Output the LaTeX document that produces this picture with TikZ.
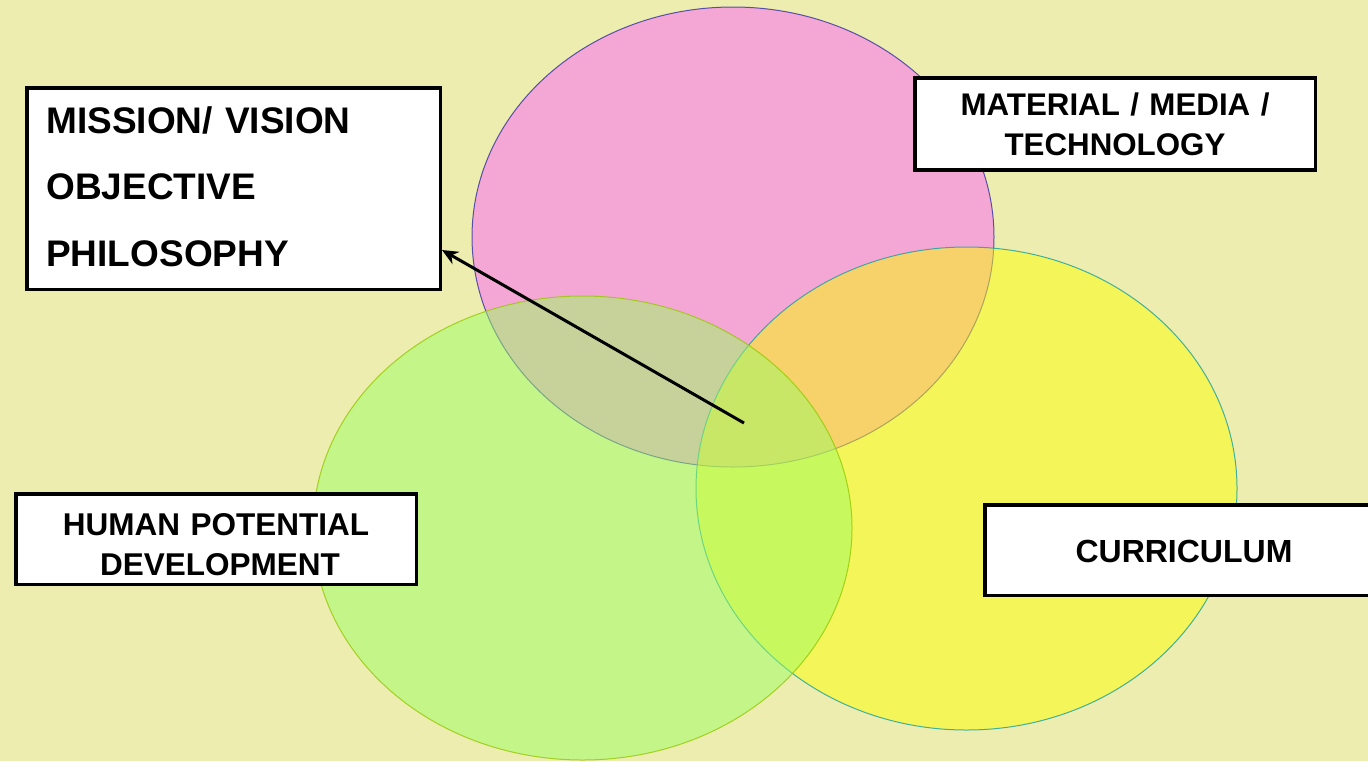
\documentclass[tikz,border=0pt]{standalone}
\usepackage{fontspec}
\setmainfont{Liberation Sans}
\usetikzlibrary{arrows.meta}
\definecolor{bgcol}{RGB}{237,237,176}
\definecolor{pinkfill}{RGB}{251,99,248}
\definecolor{pinkline}{RGB}{50,50,160}
\definecolor{yellowfill}{RGB}{251,253,4}
\definecolor{yellowline}{RGB}{20,160,160}
\definecolor{greenfill}{RGB}{155,253,100}
\definecolor{greenline}{RGB}{150,200,0}
\tikzset{
  blob/.style={fill opacity=0.5, draw opacity=0.8, line width=1pt},
  labelbox/.style={draw=black, fill=white, line width=3.5pt, rectangle, inner ysep=0pt, font=\bfseries},
  pointer/.style={draw=black, line width=3pt, -{Stealth[length=16pt,width=14pt]}}
}
\begin{document}
\begin{tikzpicture}[x=1pt,y=-1pt]
\useasboundingbox (0,0) rectangle (1368,761);
\fill[bgcol] (0,0) rectangle (1368,761);
% circles
\draw[blob, fill=pinkfill, draw=pinkline] (733,237) ellipse [x radius=261, y radius=230];
\draw[blob, fill=yellowfill, draw=yellowline] (966.5,488.5) ellipse [x radius=270.5, y radius=241.5];
\draw[blob, fill=greenfill, draw=greenline] (582.5,528) ellipse [x radius=269.5, y radius=232];
% boxes
\node[labelbox, minimum width=413.5pt, minimum height=201.5pt, inner xsep=19.5pt,
      text width=374.5pt, align=left, text height=45.25pt, text depth=156.25pt,
      font=\bfseries\fontsize{37}{66.8}\selectfont]
  (mission) at (233.5,188.5) {MISSION/ VISION\\OBJECTIVE\\PHILOSOPHY};
\node[labelbox, minimum width=400.5pt, minimum height=92.25pt, inner xsep=5pt,
      text width=390.5pt, align=center, text height=37.25pt, text depth=55pt,
      font=\bfseries\fontsize{31.3}{40}\selectfont]
  (material) at (1115,123.875) {MATERIAL / MEDIA /\\TECHNOLOGY};
\node[labelbox, minimum width=400.5pt, minimum height=90.5pt, inner xsep=5pt,
      text width=390.5pt, align=center, text height=41.25pt, text depth=49.25pt,
      font=\bfseries\fontsize{31.5}{40}\selectfont]
  (human) at (216,539) {HUMAN POTENTIAL\\\hspace{8pt}DEVELOPMENT};
\node[labelbox, minimum width=398.5pt, minimum height=90.5pt, inner xsep=5pt,
      text width=388.5pt, align=center, text height=57.25pt, text depth=33.25pt,
      font=\bfseries\fontsize{32}{40}\selectfont]
  (curriculum) at (1184,550) {CURRICULUM};
% arrow
\coordinate (core) at (744,423);
\coordinate (tip) at ([yshift=-61.5pt]mission.east);
\draw[pointer] (core) -- (tip);
\end{tikzpicture}
\end{document}
